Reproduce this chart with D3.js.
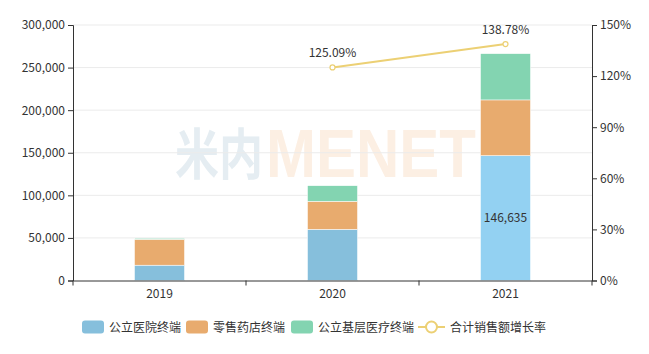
<!DOCTYPE html>
<html>
<head>
<meta charset="utf-8">
<script src="https://cdn.jsdelivr.net/npm/d3@7"></script>
<style>
body { margin: 0; background: #fff; }
text { font-family: "Microsoft YaHei", "Noto Sans CJK SC", sans-serif; }
</style>
</head>
<body>
<svg width="649" height="354"></svg>
<script>
var years = ['2019', '2020', '2021'];
var hospital = [18000, 60100, 146635];
var retail = [30400, 32900, 65400];
var grassroots = [1100, 18300, 54300];
var growth = [null, 125.09, 138.78];
var leftTicks = [0, 50000, 100000, 150000, 200000, 250000, 300000];
var rightTicks = [0, 30, 60, 90, 120, 150];
var seriesNames = ['公立医院终端', '零售药店终端', '公立基层医疗终端', '合计销售额增长率'];

var colors = ['#86bfdc', '#e8ab6e', '#83d4b1'];
var lineColor = '#ecd074';

var mLeft = 73, mRight = 592, mTop = 25, mBottom = 280.5;
var svg = d3.select('svg');

// watermark (squeezed horizontally like the logo)
svg.append('text')
	.attr('transform', 'translate(175,174) scale(1,1.25)')
	.attr('fill', '#e5edf2')
	.style('font-size', '44px').style('font-weight', 'bold')
	.style('font-family', '"Noto Sans CJK SC", sans-serif')
	.text('米内');
svg.append('text')
	.attr('transform', 'translate(266,177) scale(1,1.15)')
	.attr('fill', '#fcefe3')
	.style('font-size', '60px').style('font-weight', 'bold')
	.style('font-family', '"Liberation Sans", Arial, sans-serif')
	.text('MENET');

var x = d3.scaleBand().domain(years).range([mLeft, mRight]);
var y = d3.scaleLinear().domain([0, 300000]).range([mBottom, mTop]);
var y2 = d3.scaleLinear().domain([0, 150]).range([mBottom, mTop]);

// grid
svg.append('g').selectAll('line').data(leftTicks.slice(1)).join('line')
	.attr('x1', mLeft).attr('x2', mRight)
	.attr('y1', function(d){ return y(d); }).attr('y2', function(d){ return y(d); })
	.attr('stroke', '#ebebeb');

// stacked bars
var rows = years.map(function(yr, i){
	return { year: yr, hospital: hospital[i], retail: retail[i], grassroots: grassroots[i] };
});
var stack = d3.stack().keys(['hospital', 'retail', 'grassroots'])(rows);
var barW = 50;
svg.append('g').selectAll('g').data(stack).join('g')
	.attr('fill', function(d, i){ return colors[i]; })
	.selectAll('rect').data(function(d){ return d; }).join('rect')
	.attr('x', function(d){ return x(d.data.year) + x.bandwidth() / 2 - barW / 2; })
	.attr('width', barW)
	.attr('y', function(d){ return y(d[1]); })
	.attr('height', function(d){ return y(d[0]) - y(d[1]); })
	.attr('fill', function(d, i){
		// highlighted (hovered) bar in the original
		return (d3.select(this.parentNode).datum().key === 'hospital' && i === 2) ? '#93d1f2' : null;
	})
	.attr('stroke', '#fff').attr('stroke-width', 0.5);

// hospital label on 2021
svg.append('text')
	.attr('x', x('2021') + x.bandwidth() / 2)
	.attr('y', (y(0) + y(hospital[2])) / 2 + 4)
	.attr('text-anchor', 'middle')
	.attr('fill', '#333').style('font-size', '12px')
	.text(d3.format(',')(hospital[2]));

// axes
var axL = svg.append('g').attr('transform', 'translate(' + mLeft + ',0)')
	.call(d3.axisLeft(y).tickValues(leftTicks).tickFormat(d3.format(',')).tickSizeOuter(0).tickSize(5));
var axR = svg.append('g').attr('transform', 'translate(' + mRight + ',0)')
	.call(d3.axisRight(y2).tickValues(rightTicks).tickFormat(function(d){ return d + '%'; }).tickSizeOuter(0).tickSize(5));
var axB = svg.append('g').attr('transform', 'translate(0,' + mBottom + ')')
	.call(d3.axisBottom(x).tickSize(0).tickSizeOuter(0));
axB.selectAll('text').attr('dy', '1.2em');
axB.append('g').selectAll('line').data([mLeft, x('2020'), x('2021'), mRight]).join('line')
	.attr('x1', function(d){ return d; }).attr('x2', function(d){ return d; })
	.attr('y1', 0).attr('y2', 5).attr('stroke', '#333');
[axL, axR, axB].forEach(function(a){
	a.selectAll('path, line').attr('stroke', '#333');
	a.selectAll('text').attr('fill', '#333').style('font-size', '12px')
		.style('font-family', '"Microsoft YaHei", "Noto Sans CJK SC", sans-serif');
});

// growth line
var pts = years.map(function(yr, i){ return { year: yr, v: growth[i] }; })
	.filter(function(d){ return d.v !== null; });
var line = d3.line()
	.x(function(d){ return x(d.year) + x.bandwidth() / 2; })
	.y(function(d){ return y2(d.v); });
svg.append('path').attr('d', line(pts))
	.attr('fill', 'none').attr('stroke', lineColor).attr('stroke-width', 2);
svg.append('g').selectAll('circle').data(pts).join('circle')
	.attr('cx', function(d){ return x(d.year) + x.bandwidth() / 2; })
	.attr('cy', function(d){ return y2(d.v); })
	.attr('r', 2.5).attr('fill', '#fff').attr('stroke', lineColor).attr('stroke-width', 1.2);
svg.append('g').selectAll('text').data(pts).join('text')
	.attr('x', function(d){ return x(d.year) + x.bandwidth() / 2; })
	.attr('y', function(d){ return y2(d.v) - 10; })
	.attr('text-anchor', 'middle').attr('fill', '#333').style('font-size', '12px')
	.text(function(d){ return d.v.toFixed(2) + '%'; });

// legend
var legX = [82, 186, 291, 418];
var lg = svg.append('g').selectAll('g').data(seriesNames).join('g')
	.attr('transform', function(d, i){ return 'translate(' + legX[i] + ',327)'; });
lg.each(function(d, i){
	var g = d3.select(this);
	if (i < 3) {
		g.append('rect').attr('x', 0).attr('y', -6.5).attr('width', 22).attr('height', 13)
			.attr('rx', 3).attr('fill', colors[i]);
		g.append('text').attr('x', 27).attr('y', 4.5).attr('fill', '#333').style('font-size', '12px').text(d);
	} else {
		g.append('line').attr('x1', 0).attr('x2', 27).attr('y1', 0).attr('y2', 0)
			.attr('stroke', lineColor).attr('stroke-width', 2);
		g.append('circle').attr('cx', 13.5).attr('cy', 0).attr('r', 5.5)
			.attr('fill', '#fff').attr('stroke', lineColor).attr('stroke-width', 2);
		g.append('text').attr('x', 32).attr('y', 4.5).attr('fill', '#333').style('font-size', '12px').text(d);
	}
});
</script>
</body>
</html>
